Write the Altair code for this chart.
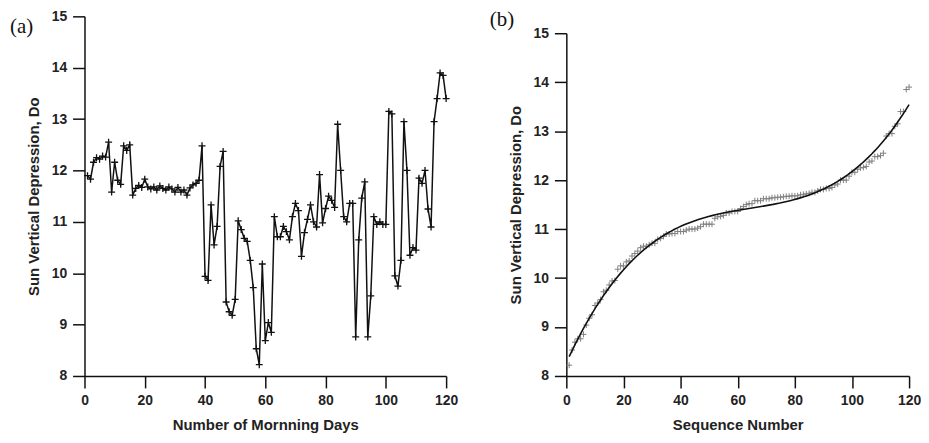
import altair as alt
import pandas as pd

days = list(range(1, 121))
depression = [
    11.90, 11.83, 12.16, 12.25, 12.22, 12.28, 12.26, 12.55, 11.58, 12.16,
    11.81, 11.73, 12.48, 12.39, 12.50, 11.52, 11.65, 11.71, 11.67, 11.83,
    11.68, 11.64, 11.68, 11.62, 11.70, 11.65, 11.62, 11.68, 11.64, 11.58,
    11.67, 11.58, 11.62, 11.52, 11.66, 11.72, 11.75, 11.81, 12.48, 9.94,
    9.86, 11.33, 10.55, 10.91, 12.08, 12.37, 9.44, 9.25, 9.18, 9.49,
    11.02, 10.85, 10.68, 10.62, 10.25, 9.72, 8.53, 8.22, 10.18, 8.69,
    9.04, 8.85, 11.10, 10.71, 10.71, 10.91, 10.81, 10.65, 11.10, 11.36,
    11.22, 10.33, 10.79, 11.05, 11.33, 11.00, 10.90, 11.92, 10.98, 11.26,
    11.50, 11.42, 11.28, 12.90, 12.00, 11.10, 11.00, 11.36, 11.36, 8.76,
    10.65, 11.46, 11.78, 8.76, 9.56, 11.10, 10.95, 11.00, 10.95, 10.95,
    13.15, 13.10, 9.95, 9.75, 10.25, 12.95, 12.00, 10.35, 10.50, 10.45,
    11.85, 11.75, 12.00, 11.25, 10.90, 12.95, 13.40, 13.90, 13.85, 13.40,
]
panel_labels = ["(a)", "(b)"]
x_titles = ["Number of Mornning Days", "Sequence Number"]
y_title = "Sun Vertical Depression, Do"
x_ticks = list(range(0, 121, 10))
y_ticks = [8 + 0.5 * i for i in range(15)]

df = pd.DataFrame({"day": days, "dep": depression})

PLUS = "M-1,0L1,0M0,-1L0,1"
FONT = "Liberation Sans"


def x_axis(title):
    return alt.Axis(
        title=title,
        values=x_ticks,
        labelExpr="datum.value % 20 === 0 ? format(datum.value, 'd') : ''",
        tickSize={"condition": {"test": "datum.value % 20 === 0", "value": 12}, "value": 6},
        labelPadding=6,
        titlePadding=10,
        labelFlush=False,
    )


def y_axis():
    return alt.Axis(
        title=y_title,
        values=y_ticks,
        labelExpr="datum.value % 1 === 0 ? format(datum.value, 'd') : ''",
        tickSize={"condition": {"test": "datum.value % 1 === 0", "value": 12}, "value": 6},
        labelPadding=6,
        titlePadding=10,
        labelFlush=False,
    )


H = 362
xs = alt.Scale(domain=[0, 120], nice=False, zero=False)
ys_l = alt.Scale(domain=[8, 15], nice=False, zero=False)
ys_r = alt.Scale(domain=[8, 15], nice=False, zero=False, range=[H, 17])

base_l = alt.Chart(df)
line_l = base_l.mark_line(color="#111111", strokeWidth=1.5).encode(
    x=alt.X("day:Q", scale=xs, axis=x_axis(x_titles[0])),
    y=alt.Y("dep:Q", scale=ys_l, axis=y_axis()),
)
pts_l = base_l.mark_point(
    shape=PLUS, filled=False, color="#111111", strokeWidth=1.3, size=49, opacity=1
).encode(x="day:Q", y="dep:Q")
lab_a = alt.Chart(pd.DataFrame({"t": [panel_labels[0]]})).mark_text(
    font="Liberation Serif", fontSize=21, align="left", baseline="top", color="#111111"
).encode(text="t:N", x=alt.value(-75), y=alt.value(0))

left = alt.layer(line_l, pts_l, lab_a).properties(width=364, height=H)

base_r = alt.Chart(df).transform_window(
    seq="row_number()", sort=[alt.SortField("dep", order="ascending")]
)
pts_r = base_r.mark_point(
    shape=PLUS, filled=False, color="#808080", strokeWidth=1.0, size=36, opacity=1
).encode(
    x=alt.X("seq:Q", scale=xs, axis=x_axis(x_titles[1])),
    y=alt.Y("dep:Q", scale=ys_r, axis=y_axis()),
)
fit_r = base_r.transform_regression(
    "seq", "dep", method="poly", order=3, extent=[1, 120]
).mark_line(color="#111111", strokeWidth=1.6).encode(x="seq:Q", y="dep:Q")
lab_b = alt.Chart(pd.DataFrame({"t": [panel_labels[1]]})).mark_text(
    font="Liberation Serif", fontSize=21, align="left", baseline="top", color="#111111"
).encode(text="t:N", x=alt.value(-77), y=alt.value(-7))

right = alt.layer(pts_r, fit_r, lab_b).properties(width=345, height=H)

chart = (
    alt.hconcat(left, right, spacing=32)
    .properties(padding={"left": 2, "top": 0, "right": 0, "bottom": 0})
    .configure_view(stroke=None)
    .configure_axis(
        grid=False,
        domainColor="#111111",
        domainWidth=1.5,
        tickColor="#111111",
        tickWidth=1.5,
        labelFont=FONT,
        labelFontWeight="bold",
        labelFontSize=14,
        labelColor="#222222",
        titleFont=FONT,
        titleFontWeight="bold",
        titleFontSize=15,
        titleColor="#222222",
    )
)

chart.save("out.html", embed_options={"renderer": "svg", "actions": False})
